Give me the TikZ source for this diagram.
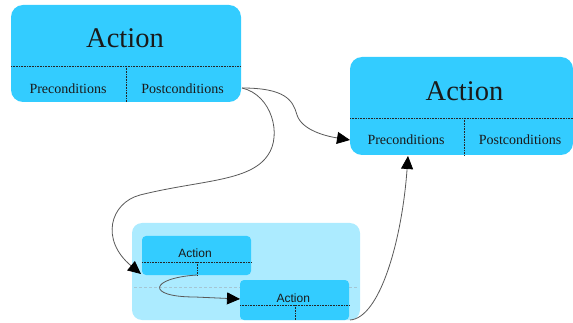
\documentclass[tikz,border=0pt]{standalone}
\usepackage{fontspec}
\setmainfont{Liberation Serif}
\setsansfont{Liberation Sans}
\usetikzlibrary{arrows.meta}
\definecolor{boxblue}{HTML}{33CCFF}
\definecolor{grpblue}{HTML}{ACEBFF}
\definecolor{txt}{HTML}{1A1A1A}
\begin{document}
\begin{tikzpicture}[x=1pt,y=-1pt,
  bigbox/.style={fill=boxblue, rounded corners=12pt, inner sep=0pt, draw=none},
  smallbox/.style={fill=boxblue, rounded corners=4pt, inner sep=0pt, draw=none},
  grpbox/.style={fill=grpblue, rounded corners=10pt, inner sep=0pt, draw=none},
  divider/.style={densely dotted, line width=0.6pt, black!85},
  bigtext/.style={inner sep=0pt, text=txt, font=\fontsize{28.5}{30}\selectfont},
  condtext/.style={inner sep=0pt, text=txt, font=\fontsize{14}{15}\selectfont},
  smalltext/.style={inner sep=0pt, text=txt, font=\sffamily\fontsize{12}{13}\selectfont},
  conn/.style={draw=black!65, line width=0.8pt, -{Triangle[length=13pt,width=12pt,color=black]}}]
\useasboundingbox (0,0) rectangle (573,323);

% group area
\node[grpbox, minimum width=228pt, minimum height=97pt] (grp) at (246,271.5) {};
\draw[densely dashed, line width=0.5pt, cyan!40!gray!60] (134,287) -- (358,287);

% big box 1
\node[bigbox, minimum width=230pt, minimum height=97pt] (b1) at (126,53.5) {};
\draw[divider] (11,66) -- (241,66);
\draw[divider] (126,66) -- (126,102);
\node[bigtext] (t1) at (125,38.5) {Action};
\node[condtext] (pre1) at (68,88.5) {Preconditions};
\node[condtext] (post1) at (182.5,88.5) {Postconditions};

% big box 2
\node[bigbox, minimum width=223pt, minimum height=98pt] (b2) at (461.5,106) {};
\draw[divider] (350,118) -- (573,118);
\draw[divider] (464,118) -- (464,155);
\node[bigtext] (t2) at (464.5,91.7) {Action};
\node[condtext] (pre2) at (406,140) {Preconditions};
\node[condtext] (post2) at (520,140) {Postconditions};

% small boxes
\node[smallbox, minimum width=109pt, minimum height=39pt] (sa) at (196.5,255.5) {};
\draw[divider] (142,262) -- (251,262);
\draw[divider] (197,262) -- (197,275);
\node[smalltext] (ta) at (195,253.5) {Action};

\node[smallbox, minimum width=109pt, minimum height=40pt] (sb) at (294.5,300) {};
\draw[divider] (240,305) -- (349,305);
\draw[divider] (295,305) -- (295,320);
\node[smalltext] (tb) at (293.3,298) {Action};

% connector end points
\coordinate (p1) at (242,88);
\coordinate (a2) at (350,140);
\coordinate (a3) at (141,274);
\coordinate (s4) at (197,275);
\coordinate (a4) at (240,299);
\coordinate (s5) at (350,320);
\coordinate (a5) at (408,156);

\draw[conn] (p1) .. controls (285,88) and (293,100) .. (297,115)
  .. controls (302,130) and (325,136) .. (a2);
\draw[conn] (p1) .. controls (272,95) and (282,135) .. (268,155)
  .. controls (250,182) and (200,180) .. (140,195)
  .. controls (110,203) and (100,240) .. (a3);
\draw[conn] (s4) .. controls (150,278) and (145,297) .. (195,297) -- (a4);
\draw[conn] (s5) .. controls (380,318) and (402,240) .. (a5);
\end{tikzpicture}
\end{document}
